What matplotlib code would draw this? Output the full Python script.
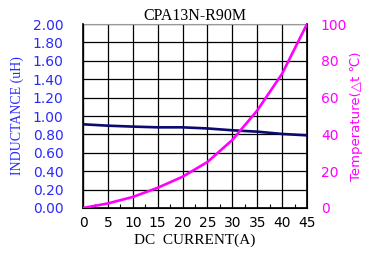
import matplotlib
matplotlib.use('Agg')
import matplotlib.pyplot as plt
from matplotlib.ticker import MultipleLocator

# data
current = [0, 5, 10, 15, 20, 25, 30, 35, 40, 45]
inductance = [0.91, 0.895, 0.885, 0.877, 0.877, 0.865, 0.845, 0.83, 0.805, 0.79]
temperature = [0, 2.5, 6, 11, 17, 25, 37, 53, 73, 100]

x_ticks = [0, 5, 10, 15, 20, 25, 30, 35, 40, 45]
l_ticks = [0.0, 0.2, 0.4, 0.6, 0.8, 1.0, 1.2, 1.4, 1.6, 1.8, 2.0]
r_ticks = [0, 20, 40, 60, 80, 100]

blue_txt = '#2a2aff'
navy = '#0a0a70'
magenta = '#ff00ff'

fig = plt.figure(figsize=(3.66, 2.58), dpi=100)
ax = fig.add_axes([0.2268, 0.1938, 0.612, 0.713])

ax.plot(current, inductance, color=navy, lw=1.9, zorder=3)
ax.set_xlim(0, 45)
ax.set_ylim(0, 2.0)
ax.set_xticks(x_ticks)
ax.set_yticks(l_ticks)
ax.set_yticklabels([f'{v:.2f}' for v in l_ticks])
ax.xaxis.set_minor_locator(MultipleLocator(2.5))
ax.grid(True, color='black', lw=0.9)
ax.tick_params(axis='x', which='major', length=0, pad=6, labelsize=10)
ax.tick_params(axis='x', which='minor', direction='in', length=3, width=0.8)
ax.tick_params(axis='y', length=0, pad=14, labelsize=10, labelcolor=blue_txt)
ax.set_ylabel('INDUCTANCE (uH)', color=blue_txt, family='Liberation Serif',
              fontsize=10, labelpad=6)
ax.set_xlabel('DC  CURRENT(A)', family='Liberation Serif', fontsize=11, labelpad=2)
ax.set_title('CPA13N-R90M', family='Liberation Serif', fontsize=11.5, pad=2)
ax.spines['top'].set_color('#999999')
for s in ['left', 'right', 'bottom']:
    ax.spines[s].set_linewidth(1.2)

ax2 = ax.twinx()
ax2.plot(current, temperature, color=magenta, lw=1.9, zorder=4)
ax2.set_ylim(0, 100)
ax2.set_yticks(r_ticks)
ax2.tick_params(axis='y', length=0, pad=10, labelsize=10, labelcolor=magenta)
ax2.set_ylabel('Temperature(△t ℃)', color=magenta, fontsize=9.5, labelpad=2)
ax2.spines['top'].set_visible(False)

fig.savefig('out.png', dpi=100)
